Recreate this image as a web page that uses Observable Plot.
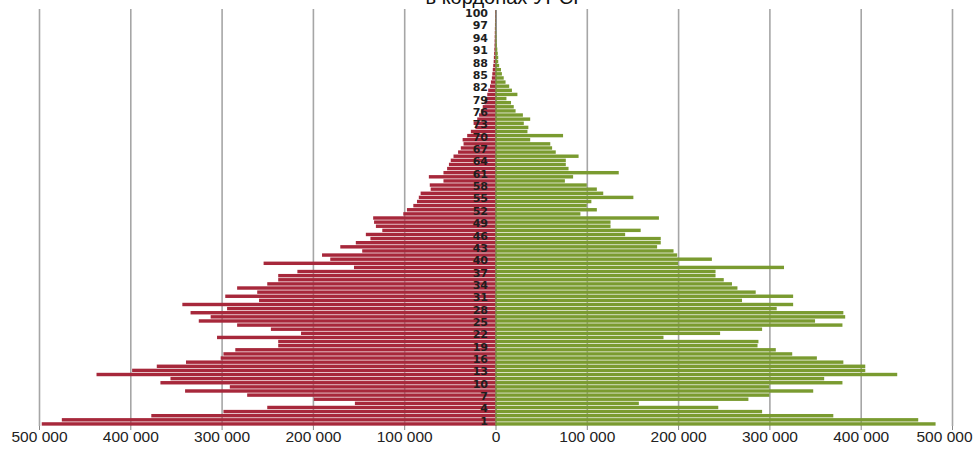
<!DOCTYPE html>
<html>
<head>
<meta charset="utf-8">
<script src="https://cdn.jsdelivr.net/npm/d3@7"></script>
<script src="https://cdn.jsdelivr.net/npm/@observablehq/plot@0.6"></script>
<style>
  html, body { margin: 0; padding: 0; background: #fff; overflow: hidden; }
  #wrap { position: relative; width: 978px; height: 453px; overflow: hidden; }
  #title { position: absolute; top: -13px; left: 17px; width: 978px; text-align: center;
           font: 20px "Liberation Sans", Arial, sans-serif; line-height: 20px; color: #111; }
  #chart { position: absolute; top: 0; left: 0; }
</style>
</head>
<body>
<div id="wrap">
  <div id="chart"></div>
  <div id="title">в кордонах УРСР</div>
</div>
<script>
// Ages 0..100
const ages = d3.range(0, 101);
// Male population (thousands), left side, index = age
const male = [497,475,377,298,250,154,199,272,340,291,
              367,356,437,398,371,339,301,298,285,238,
              238,305,213,246,283,325,312,334,294,343,
              259,296,261,283,250,238,238,217,155,254,
              181,190,146,170,153,137,142,124,131,133,
              134,101,97,90,86,84,82,71,72,57,
              73,57,53,51,49,46,41,38,35,36,
              31,27,22,24,20,18,16,14,12,11,
              9,8,6,5,4,3.5,3,2.5,2,1.8,
              1.5,1.3,1.1,1,0.9,0.8,0.7,0.6,0.5,0.5,0.5];
// Female population (thousands), right side, index = age
const female = [482,463,370,292,244,157,277,300,348,300,
                380,360,440,405,405,381,352,325,307,287,
                288,184,246,292,380,350,383,381,308,326,
                270,326,285,265,259,250,241,241,316,200,
                237,199,195,177,181,181,142,159,126,126,
                179,93,111,100,105,151,118,111,100,76,
                85,135,80,77,77,91,66,62,60,38,
                74,35,36,31,38,30,22,20,17,12,
                24,18,15,11,9,7,6,4,3,3,
                2.5,2,1.5,1.2,1,0.8,0.6,0.5,0.4,0.3,0.3];
// Axis tick values (persons)
const xTicks = [-500000,-400000,-300000,-200000,-100000,0,100000,200000,300000,400000,500000];
// Age labels shown
const ageLabels = ages.filter(a => a % 3 === 1);

const rows = ages.map((a, i) => ({age: a, male: male[i] * 1000, female: female[i] * 1000}));
const fmt = d3.formatLocale({thousands: "\u00a0", grouping: [3], currency: ["", ""], decimal: ","}).format(",");
const lbl = d => fmt(Math.abs(d));

const chart = Plot.plot({
  width: 978,
  height: 453,
  marginLeft: 39,
  marginRight: 26,
  marginTop: 10,
  marginBottom: 27,
  style: {fontFamily: "'Liberation Sans', Arial, sans-serif", background: "transparent"},
  x: {domain: [-500000, 500000], label: null},
  y: {type: "band", domain: ages.slice().reverse(), padding: 0, round: false, axis: null},
  marks: [
    Plot.ruleX(xTicks.filter(d => d !== 0), {stroke: "#a6a6a6", strokeWidth: 1.6, insetTop: -1}),
    Plot.ruleX([0], {stroke: "#444", strokeWidth: 1.2}),
    Plot.barX(rows, {y: "age", x1: 0, x2: d => -d.male, fill: "#a7283b", insetTop: 0.35, insetBottom: 0.35}),
    Plot.barX(rows, {y: "age", x1: 0, x2: "female", fill: "#7a9b30", insetTop: 0.35, insetBottom: 0.35}),
    Plot.axisX({ticks: xTicks, tickFormat: null, text: null, tickSize: 4, stroke: "#888", label: null}),
    Plot.text(xTicks.slice(0, -1), {x: d => d, frameAnchor: "bottom", dy: 15, text: lbl,
      fontSize: 15.5, fill: "#222"}),
    Plot.text(xTicks.slice(-1), {x: d => d, frameAnchor: "bottom", dy: 15, dx: -8, text: lbl,
      fontSize: 15.5, fill: "#222"}),
    Plot.text(ageLabels, {x: 0, y: d => d, text: d => String(d), textAnchor: "end", dx: -8, dy: 1,
      fontWeight: "bold", fontSize: 11, fill: "#1e1e1e", fontFamily: "'DejaVu Sans', sans-serif"})
  ]
});
document.getElementById("chart").appendChild(chart);
</script>
</body>
</html>
